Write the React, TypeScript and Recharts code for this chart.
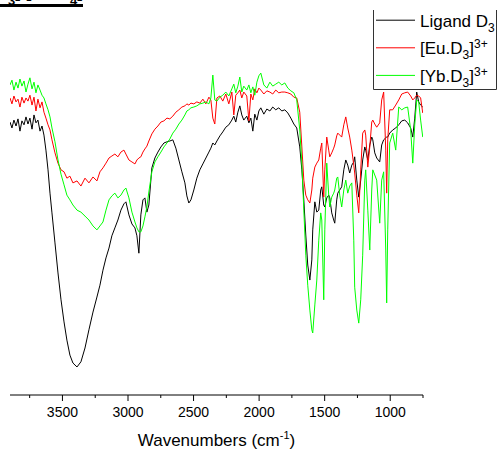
import React from 'react';
import { LineChart, Line, XAxis, YAxis, Legend } from 'recharts';

const wavenumbers = [
  3900, 3885, 3870, 3854, 3839, 3824, 3809, 3793, 3778, 3763, 3748, 3732, 3717, 3702, 3687, 3671, 3656, 3641, 3626, 3610,
  3595, 3580, 3557, 3534, 3511, 3488, 3466, 3443, 3420, 3389, 3359, 3328, 3298, 3267, 3237, 3214, 3191, 3168, 3145, 3123,
  3100, 3077, 3054, 3031, 3016, 2993, 2970, 2947, 2932, 2917, 2902, 2886, 2871, 2856, 2841, 2818, 2795, 2772, 2749, 2726,
  2703, 2681, 2658, 2635, 2612, 2589, 2566, 2551, 2536, 2520, 2498, 2475, 2452, 2429, 2406, 2383, 2368, 2353, 2338, 2322,
  2299, 2277, 2254, 2231, 2208, 2193, 2178, 2162, 2147, 2132, 2117, 2094, 2078, 2063, 2048, 2033, 2017, 2002, 1987, 1964,
  1941, 1918, 1896, 1873, 1850, 1827, 1804, 1781, 1758, 1735, 1713, 1690, 1674, 1659, 1644, 1629, 1613, 1598, 1591, 1575,
  1560, 1545, 1530, 1522, 1507, 1499, 1484, 1469, 1461, 1446, 1431, 1423, 1408, 1400, 1385, 1370, 1354, 1339, 1324, 1309,
  1293, 1278, 1271, 1255, 1240, 1225, 1210, 1194, 1187, 1171, 1156, 1141, 1133, 1118, 1103, 1080, 1065, 1050, 1034, 1027,
  1019, 1004, 981, 958, 935, 912, 889, 867, 844, 828, 813, 798, 783, 768, 752,
];

const ligandD3 = [
  69.1, 67.6, 69.6, 68.1, 69.9, 66.8, 69.4, 68.4, 70.4, 68.6, 70.1, 67.3, 70.9, 68.9, 69.6, 66.8, 68.1, 65.8, 62.0, 57.0,
  51.1, 46.1, 38.5, 30.9, 24.1, 18.5, 13.9, 10.1, 8.1, 7.1, 8.4, 11.9, 16.5, 21.0, 24.8, 27.8, 31.6, 34.7, 37.2, 40.3,
  42.3, 44.3, 46.8, 48.4, 48.9, 45.6, 43.3, 42.3, 40.3, 35.9, 45.6, 49.4, 49.9, 46.3, 48.1, 57.5, 60.0, 61.5, 62.8, 63.8,
  64.1, 64.3, 64.6, 62.5, 59.5, 56.5, 53.7, 50.4, 48.6, 49.4, 51.9, 54.9, 57.0, 58.5, 60.0, 61.5, 62.5, 63.8, 63.3, 64.3,
  65.6, 66.6, 67.8, 68.4, 69.6, 70.6, 69.1, 71.6, 73.2, 70.9, 69.6, 70.6, 68.9, 70.1, 66.8, 71.1, 69.6, 71.9, 72.7, 71.1,
  72.4, 71.9, 72.9, 72.2, 72.7, 71.9, 72.2, 71.4, 70.1, 68.6, 67.6, 62.8, 57.0, 49.4, 40.5, 32.9, 29.1, 34.2, 41.8, 48.9,
  46.3, 46.8, 51.9, 52.7, 48.1, 47.6, 49.9, 50.6, 49.9, 46.1, 44.3, 43.5, 49.4, 51.1, 51.9, 52.7, 57.0, 59.5, 58.2, 56.2,
  58.2, 59.0, 60.3, 54.4, 50.1, 54.4, 59.5, 62.8, 62.0, 59.5, 63.3, 65.3, 64.6, 61.3, 60.0, 59.0, 63.3, 64.6, 65.1, 65.3,
  65.3, 66.3, 67.1, 67.6, 68.4, 69.4, 69.6, 68.9, 67.6, 65.3, 70.1, 76.7, 74.2, 73.4, 72.9,
];

const euD3 = [
  75.2, 73.7, 75.7, 74.2, 74.9, 72.9, 75.4, 73.9, 75.2, 74.4, 75.9, 73.4, 75.4, 71.9, 74.9, 72.7, 74.2, 71.6, 70.1, 68.4,
  67.1, 64.6, 61.3, 58.7, 57.0, 56.5, 54.9, 55.4, 53.7, 54.2, 52.9, 54.9, 53.7, 55.2, 54.2, 56.5, 57.5, 58.7, 60.0, 60.5,
  61.0, 60.3, 61.5, 62.0, 61.0, 59.5, 59.0, 58.5, 59.5, 60.0, 60.3, 61.5, 62.3, 63.0, 64.3, 66.1, 67.3, 68.1, 69.1, 69.4,
  70.1, 69.9, 70.6, 71.6, 72.2, 72.9, 73.2, 73.7, 73.4, 73.9, 73.7, 74.2, 73.9, 74.9, 73.7, 75.4, 74.7, 70.1, 68.6, 75.2,
  75.7, 74.4, 76.2, 73.7, 76.7, 70.9, 75.9, 76.5, 77.2, 75.2, 76.7, 75.7, 69.4, 76.2, 74.7, 77.5, 76.5, 77.7, 77.2, 76.2,
  77.0, 76.7, 76.2, 77.2, 76.5, 76.7, 76.7, 76.5, 76.2, 75.4, 75.2, 71.6, 62.8, 54.4, 50.6, 49.4, 48.6, 51.9, 54.9, 57.7,
  58.7, 59.5, 62.5, 63.8, 50.1, 57.0, 65.3, 62.0, 60.3, 61.3, 62.5, 63.3, 65.6, 66.3, 65.8, 65.3, 68.4, 70.4, 67.6, 65.3,
  62.0, 58.2, 56.2, 50.6, 46.1, 57.0, 66.3, 67.1, 65.8, 57.7, 62.8, 69.1, 69.6, 68.6, 67.8, 68.9, 74.7, 76.7, 62.0, 51.1,
  64.6, 72.2, 72.2, 73.4, 74.7, 76.2, 76.5, 76.7, 75.7, 74.7, 75.2, 75.9, 75.7, 75.2, 71.4,
];

const ybD3 = [
  78.5, 79.7, 77.2, 79.2, 77.7, 80.0, 78.2, 79.5, 76.7, 78.7, 80.3, 77.5, 79.2, 76.5, 78.5, 77.2, 75.9, 75.2, 73.7, 72.2,
  70.4, 67.6, 64.1, 59.5, 55.9, 53.2, 50.6, 49.4, 48.1, 46.8, 46.3, 45.3, 44.3, 42.8, 41.8, 42.8, 43.8, 46.8, 49.4, 50.4,
  51.1, 49.9, 50.6, 51.9, 52.4, 49.9, 46.3, 43.8, 42.3, 41.3, 41.3, 42.8, 45.1, 47.6, 51.4, 56.5, 59.0, 60.3, 61.5, 62.8,
  63.8, 64.8, 66.3, 67.3, 68.6, 69.6, 70.9, 71.9, 72.2, 72.7, 72.9, 73.2, 73.7, 73.9, 74.2, 73.7, 75.2, 81.0, 74.7, 74.4,
  75.4, 75.9, 76.7, 75.7, 77.5, 78.7, 76.5, 78.2, 80.5, 76.7, 78.2, 77.2, 78.5, 76.5, 78.0, 75.9, 79.2, 80.8, 81.5, 78.5,
  77.7, 79.2, 78.2, 78.7, 79.2, 78.5, 79.0, 77.7, 77.0, 76.5, 74.7, 67.1, 58.7, 46.8, 35.4, 27.8, 21.5, 16.5, 15.7, 22.8,
  29.1, 39.2, 46.1, 44.3, 24.1, 41.8, 58.7, 50.6, 47.6, 50.1, 51.1, 51.9, 54.9, 55.2, 50.6, 47.6, 51.9, 54.4, 51.1, 52.9,
  53.7, 39.2, 27.3, 21.5, 18.2, 24.1, 35.4, 54.4, 57.0, 46.8, 36.7, 51.9, 57.0, 55.7, 54.4, 43.5, 54.4, 56.5, 36.7, 23.3,
  41.8, 63.8, 66.3, 62.0, 72.9, 72.2, 72.7, 72.9, 67.1, 58.7, 68.4, 74.7, 74.2, 69.6, 65.3,
];

const majorTicks = [3500, 3000, 2500, 2000, 1500, 1000];
const minorTicks = [3750, 3250, 2750, 2250, 1750, 1250, 750];
const allTicks = [...majorTicks, ...minorTicks].sort((a, b) => b - a);

const colors = { ligand: '#000000', eu: '#FF0000', yb: '#00FF00' };

const data = wavenumbers.map((wn, i) => ({
  wn,
  ligand: ligandD3[i],
  eu: euD3[i],
  yb: ybD3[i],
}));

const FONT = "'Liberation Sans', Arial, sans-serif";

const AxisTick = (props: any) => {
  const { x, y, payload } = props;
  const axisY = y - 8;
  const major = majorTicks.includes(payload.value);
  return (
    <g>
      <line x1={x} x2={x} y1={axisY} y2={axisY + (major ? 6 : 3)} stroke="#000" strokeWidth={1} />
      {major && (
        <text x={x} y={axisY + 22} textAnchor="middle" fontSize={14} fontFamily={FONT} fill="#000">
          {payload.value}
        </text>
      )}
    </g>
  );
};

const AxisTitle = (props: any) => {
  const vb = props.viewBox || { x: 10, y: 395, width: 413, height: 58 };
  const cx = vb.x + vb.width / 2;
  return (
    <text x={cx} y={vb.y + 51} textAnchor="middle" fontSize={17} fontFamily={FONT} fill="#000">
      <tspan>Wavenumbers (cm</tspan>
      <tspan fontSize={11} dy={-7}>-1</tspan>
      <tspan dy={7}>)</tspan>
    </text>
  );
};

const LegendBox = () => {
  const rows = [
    { color: colors.ligand, kind: 'ligand' },
    { color: colors.eu, kind: 'eu' },
    { color: colors.yb, kind: 'yb' },
  ];
  return (
    <svg width={124} height={80} style={{ display: 'block', background: '#fff' }}>
      <line x1={0.5} x2={0.5} y1={0} y2={79.5} stroke="#333" />
      <line x1={123.5} x2={123.5} y1={0} y2={79.5} stroke="#333" />
      <line x1={0.5} x2={123.5} y1={79.5} y2={79.5} stroke="#333" />
      {rows.map((r, i) => {
        const base = 16.7 + i * 27.6;
        return (
          <g key={r.kind}>
            <line x1={3} x2={42} y1={base - 6.5} y2={base - 6.5} stroke={r.color} strokeWidth={1} />
            <text x={47} y={base} fontSize={17} fontFamily={FONT} fill="#000">
              {r.kind === 'ligand' && (
                <>
                  <tspan>Ligand D</tspan>
                  <tspan fontSize={12} dy={5}>3</tspan>
                </>
              )}
              {r.kind !== 'ligand' && (
                <>
                  <tspan>{r.kind === 'eu' ? '[Eu.D' : '[Yb.D'}</tspan>
                  <tspan fontSize={12} dy={5}>3</tspan>
                  <tspan dy={-5}>]</tspan>
                  <tspan fontSize={12} dy={-6}>3+</tspan>
                </>
              )}
            </text>
          </g>
        );
      })}
    </svg>
  );
};

export default function App() {
  return (
    <div style={{ position: 'absolute', left: 0, top: 0, width: 499, height: 453, background: '#fff' }}>
      <LineChart width={499} height={453} data={data} margin={{ top: 0, right: 76, bottom: 0, left: 10 }}>
        <XAxis
          dataKey="wn"
          type="number"
          domain={[750, 3900]}
          reversed
          allowDataOverflow
          ticks={allTicks}
          interval={0}
          tick={AxisTick}
          tickLine={false}
          tickSize={6}
          tickMargin={2}
          axisLine={{ stroke: '#000', strokeWidth: 1 }}
          height={58}
          label={{ content: AxisTitle }}
        />
        <YAxis hide domain={[0, 100]} type="number" allowDataOverflow />
        <Line type="linear" dataKey="ligand" name="Ligand D3" stroke={colors.ligand} strokeWidth={1} dot={false} isAnimationActive={false} />
        <Line type="linear" dataKey="eu" name="[Eu.D3]3+" stroke={colors.eu} strokeWidth={1} dot={false} isAnimationActive={false} />
        <Line type="linear" dataKey="yb" name="[Yb.D3]3+" stroke={colors.yb} strokeWidth={1} dot={false} isAnimationActive={false} />
        <Legend
          layout="vertical"
          align="center"
          verticalAlign="middle"
          wrapperStyle={{ position: 'absolute', left: 373, top: 10, width: 124, height: 80 }}
          content={LegendBox}
        />
      </LineChart>
      <div style={{ position: 'absolute', left: 0, top: 0, width: 90, height: 10, overflow: 'hidden' }}>
        <div
          style={{
            position: 'absolute',
            right: 7,
            top: -16,
            whiteSpace: 'nowrap',
            fontFamily: FONT,
            fontWeight: 'bold',
            fontSize: 17,
            lineHeight: '17px',
            paddingBottom: 3,
            borderBottom: '3px solid #000',
          }}
        >
          [Yb.D<sub style={{ fontSize: 13, lineHeight: 0, verticalAlign: '-7px' }}>3</sub>] [Eu.D
          <sub style={{ fontSize: 13, lineHeight: 0, verticalAlign: '-7px' }}>4</sub>]
        </div>
      </div>
    </div>
  );
}
